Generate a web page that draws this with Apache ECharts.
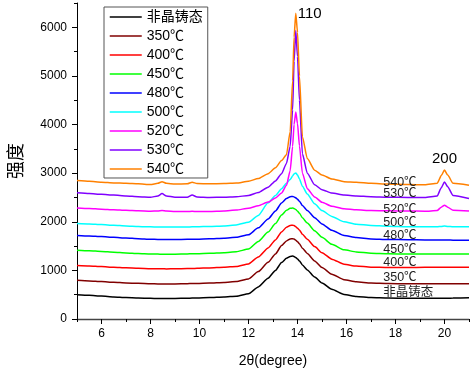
<!DOCTYPE html>
<html>
<head>
<meta charset="utf-8">
<script src="https://cdn.jsdelivr.net/npm/echarts@6/dist/echarts.min.js"></script>
<style>
html,body{margin:0;padding:0;background:#fff;}
#chart{width:472px;height:371px;}
</style>
</head>
<body>
<div id="chart"></div>
<script>
// 2θ sampling positions (degree)
const X = [5, 5.5, 6, 6.5, 7, 7.5, 8, 8.3, 8.47, 8.65, 9.0, 9.5, 9.7, 9.9, 10.4, 11, 11.5, 12, 12.4, 12.8, 13.1, 13.35, 13.55, 13.7, 13.8, 13.86, 13.93, 14.0, 14.08, 14.2, 14.4, 14.7, 15, 15.4, 15.9, 16.4, 17, 17.7, 18.5, 19.2, 19.7, 19.87, 20.0, 20.13, 20.35, 21];

const seriesNames = ['非晶铸态', '350℃', '400℃', '450℃', '480℃', '500℃', '520℃', '530℃', '540℃'];

const amorphous = [500, 487, 472, 455, 440, 432, 425, 423, 422, 421, 424, 428, 430, 432, 440, 452, 470, 520, 660, 840, 1000, 1160, 1250, 1288, 1294, 1285, 1265, 1235, 1195, 1110, 1010, 865, 740, 610, 505, 465, 440, 430, 425, 425, 427, 428, 428, 428, 430, 435];
const t350 = [795, 783, 770, 755, 742, 733, 725, 722, 720, 719, 722, 727, 729, 731, 739, 752, 772, 825, 975, 1167, 1339, 1510, 1606, 1647, 1653, 1644, 1622, 1590, 1547, 1456, 1349, 1194, 1060, 921, 809, 766, 739, 729, 723, 723, 723, 723, 723, 723, 724, 725];
const t400 = [1100, 1090, 1078, 1065, 1052, 1043, 1035, 1033, 1032, 1031, 1034, 1038, 1040, 1042, 1051, 1063, 1082, 1133, 1277, 1463, 1627, 1792, 1885, 1924, 1930, 1921, 1900, 1869, 1829, 1742, 1640, 1490, 1363, 1231, 1126, 1088, 1067, 1060, 1059, 1062, 1063, 1063, 1063, 1063, 1063, 1064];
const t450 = [1415, 1403, 1390, 1375, 1360, 1348, 1338, 1335, 1333, 1332, 1334, 1339, 1341, 1343, 1352, 1365, 1385, 1439, 1592, 1788, 1962, 2137, 2235, 2276, 2283, 2273, 2251, 2218, 2175, 2082, 1973, 1815, 1679, 1537, 1423, 1379, 1352, 1341, 1335, 1335, 1335, 1335, 1336, 1335, 1335, 1336];
const t480 = [1720, 1708, 1695, 1680, 1665, 1652, 1640, 1637, 1635, 1633, 1634, 1638, 1640, 1642, 1650, 1663, 1681, 1732, 1875, 2058, 2222, 2385, 2477, 2515, 2521, 2512, 2492, 2461, 2421, 2334, 2232, 2084, 1956, 1824, 1717, 1675, 1648, 1636, 1630, 1627, 1625, 1624, 1624, 1623, 1622, 1620];
const t500 = [1965, 1955, 1942, 1928, 1915, 1905, 1895, 1893, 1892, 1891, 1890, 1893, 1895, 1897, 1905, 1915, 1935, 1990, 2130, 2390, 2540, 2680, 2790, 2870, 2940, 2985, 3005, 2960, 2880, 2730, 2570, 2370, 2230, 2110, 2000, 1950, 1925, 1910, 1900, 1897, 1897, 1905, 1912, 1905, 1898, 1895];
const t520 = [2285, 2273, 2260, 2248, 2236, 2226, 2218, 2222, 2230, 2220, 2212, 2210, 2216, 2210, 2212, 2222, 2240, 2280, 2330, 2405, 2490, 2590, 2750, 3050, 3550, 4000, 4257, 4020, 3560, 3000, 2680, 2510, 2400, 2320, 2270, 2245, 2232, 2225, 2220, 2218, 2230, 2300, 2340, 2300, 2235, 2222];
const t530 = [2595, 2580, 2565, 2550, 2530, 2515, 2505, 2530, 2580, 2530, 2505, 2505, 2550, 2510, 2500, 2505, 2515, 2540, 2600, 2710, 2840, 2990, 3200, 3550, 4300, 5300, 5934, 5400, 4500, 3400, 3000, 2760, 2660, 2590, 2550, 2530, 2515, 2505, 2500, 2498, 2530, 2700, 2820, 2720, 2540, 2480];
const t540 = [2850, 2835, 2815, 2800, 2790, 2780, 2768, 2790, 2825, 2790, 2775, 2780, 2815, 2785, 2780, 2785, 2795, 2835, 2890, 2990, 3110, 3260, 3380, 3850, 4900, 5800, 6290, 5900, 5000, 3750, 3300, 3060, 2960, 2880, 2825, 2815, 2790, 2775, 2765, 2760, 2790, 2950, 3065, 2960, 2790, 2750];

const seriesValues = [amorphous, t350, t400, t450, t480, t500, t520, t530, t540];
const colors = ['#000000', '#800000', '#ff0000', '#00ff00', '#0000ff', '#00ffff', '#ff00ff', '#8000ff', '#ff8000'];

// curve annotations (data coordinates)
const curveLabelX = 17.5;
const curveLabelY = [534, 862, 1170, 1437, 1725, 1992, 2259, 2573, 2813];
const peakNames = ['110', '200'];
const peakLabelX = [14.5, 20.0];
const peakLabelY = [6277, 3285];

const xTicks = [6, 8, 10, 12, 14, 16, 18, 20];
const yTicks = [0, 1000, 2000, 3000, 4000, 5000, 6000];

const FONT = "'Liberation Sans', Arial, 'Noto Sans CJK SC', sans-serif";

const chart = echarts.init(document.getElementById('chart'), null, {renderer: 'canvas'});

const series = seriesNames.map((name, i) => {
  const marks = [{
    coord: [curveLabelX, curveLabelY[i]],
    label: {formatter: name}
  }];
  if (i === seriesNames.length - 1) {
    peakNames.forEach((p, j) => marks.push({
      coord: [peakLabelX[j], peakLabelY[j]],
      label: {formatter: p, position: 'inside', fontSize: 15, color: '#000'}
    }));
  }
  return {
    name: name,
    type: 'line',
    data: X.map((x, k) => [x, seriesValues[i][k]]),
    symbol: 'none',
    showSymbol: false,
    smooth: 0.2,
    smoothMonotone: 'x',
    lineStyle: {width: 1.5, color: colors[i]},
    itemStyle: {color: colors[i]},
    z: 2,
    markPoint: {
      symbol: 'circle',
      symbolSize: 0,
      silent: true,
      label: {show: true, position: 'right', distance: 0, color: '#222', fontSize: 12.5, fontFamily: FONT},
      data: marks
    }
  };
});

chart.setOption({
  animation: false,
  backgroundColor: '#fff',
  textStyle: {fontFamily: FONT},
  grid: {left: 77, right: 3, top: 3, bottom: 52, containLabel: false, outerBoundsMode: 'none'},
  legend: {
    data: seriesNames,
    orient: 'vertical',
    left: 104,
    top: 7,
    padding: [3, 5, 2, 5],
    itemWidth: 32,
    itemHeight: 14,
    itemGap: 5,
    borderColor: '#555',
    borderWidth: 1,
    backgroundColor: '#fff',
    itemStyle: {color: 'transparent', borderColor: 'transparent', borderWidth: 0, opacity: 0},
    lineStyle: {width: 1.5, opacity: 1},
    textStyle: {fontSize: 14, color: '#000', fontFamily: FONT}
  },
  xAxis: [{
    type: 'value', min: 5, max: 21, interval: 1,
    position: 'bottom',
    name: '2θ(degree)', nameLocation: 'middle', nameGap: 35,
    nameTextStyle: {fontSize: 14, color: '#000', fontFamily: FONT},
    axisLine: {show: true, onZero: false, lineStyle: {color: '#000', width: 1}},
    axisTick: {show: true, inside: false, length: 3, lineStyle: {color: '#000'}},
    axisLabel: {show: true, customValues: xTicks, fontSize: 12, color: '#000', margin: 9, fontFamily: FONT,
      formatter: v => String(v)},
    splitLine: {show: false}
  }, {
    type: 'value', min: 5, max: 21,
    position: 'bottom',
    axisLine: {show: false},
    axisTick: {show: true, inside: false, length: 5, customValues: xTicks, lineStyle: {color: '#000'}},
    axisLabel: {show: false},
    splitLine: {show: false}
  }, {
    type: 'value', min: 5, max: 21,
    position: 'top',
    axisLine: {show: true, lineStyle: {color: '#444', width: 1.3}},
    axisTick: {show: false},
    axisLabel: {show: false},
    splitLine: {show: false}
  }],
  yAxis: [{
    type: 'value', min: 0, max: 6500, interval: 500,
    position: 'left',
    name: '强度', nameLocation: 'middle', nameGap: 53, nameRotate: 90,
    nameTextStyle: {fontSize: 18, color: '#000', fontFamily: "'Noto Sans CJK SC', sans-serif"},
    axisLine: {show: true, lineStyle: {color: '#000', width: 1}},
    axisTick: {show: true, inside: false, length: 3, lineStyle: {color: '#000'}},
    axisLabel: {show: true, customValues: yTicks, fontSize: 12, color: '#000', margin: 10, fontFamily: FONT,
      formatter: v => String(v)},
    splitLine: {show: false}
  }, {
    type: 'value', min: 0, max: 6500,
    position: 'left',
    axisLine: {show: false},
    axisTick: {show: true, inside: false, length: 5, customValues: yTicks, lineStyle: {color: '#000'}},
    axisLabel: {show: false},
    splitLine: {show: false}
  }],
  series: series
});
</script>
</body>
</html>
